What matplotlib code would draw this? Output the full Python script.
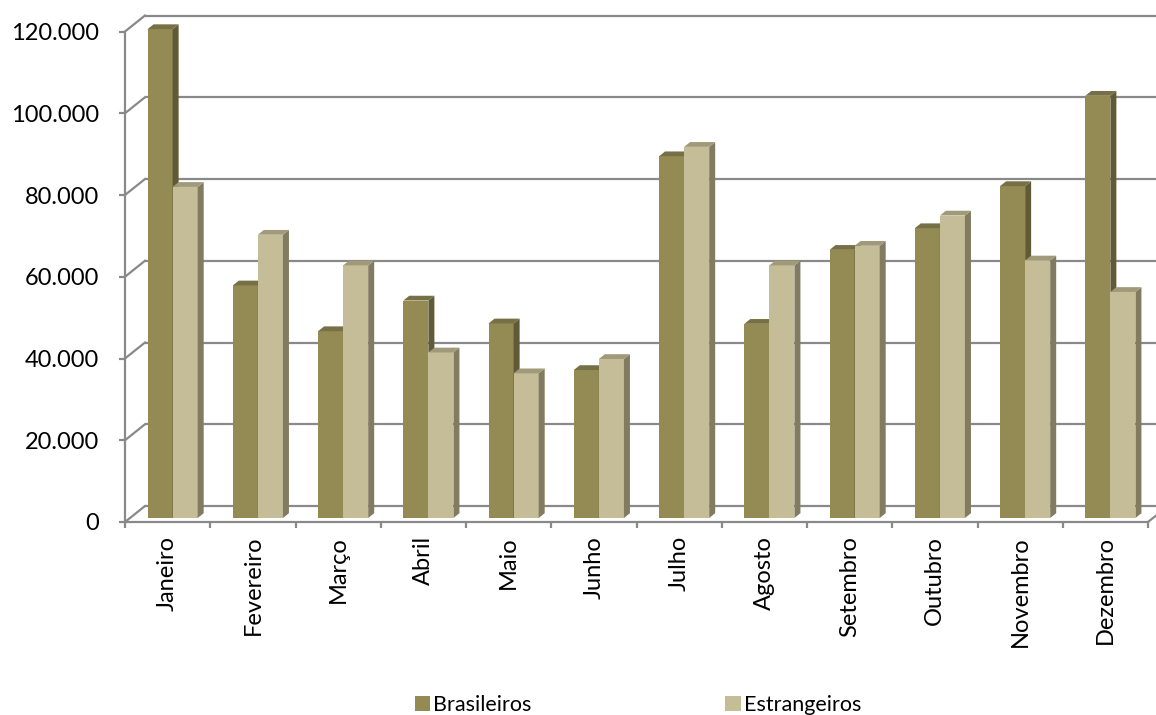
import numpy as np
import matplotlib
matplotlib.use("Agg")
from matplotlib import pyplot as plt
from matplotlib.patches import Polygon, Patch
from matplotlib.ticker import FuncFormatter, FixedLocator

plt.rcParams['font.family'] = ['Lato', 'DejaVu Sans']

# DATA
meses = ["Janeiro", "Fevereiro", "Março", "Abril", "Maio", "Junho",
         "Julho", "Agosto", "Setembro", "Outubro", "Novembro", "Dezembro"]
brasileiros = [119600, 56900, 45700, 53200, 47600, 36200,
               88500, 47500, 65600, 70900, 81200, 103300]
estrangeiros = [81000, 69300, 61800, 40500, 35400, 38900,
                90800, 61800, 66600, 74000, 63000, 55300]
y_ticks = [0, 20000, 40000, 60000, 80000, 100000, 120000]

# colours (front, side, top)
cor_bra = ("#948a54", "#615a36", "#777046")
cor_est = ("#c4bd97", "#807b61", "#a09a7a")
grid_col = "#898989"

# 3d look: depth of the box and of the bars, in data units
n = len(meses)
ymax = 120000
dx, dy = 0.2346, 3914
f0, fd = 0.25, 0.30          # bar front depth / bar thickness (fraction of box depth)
w = 0.294                     # bar width

fig = plt.figure(figsize=(11.56, 7.15), dpi=100)
ax = fig.add_axes([125/1156, 1-522/715, (1148-125)/1156, (522-31.5)/715])
ax.set_xlim(0, n)
ax.set_ylim(0, ymax)
ax.patch.set_visible(False)
for sp in ["top", "right"]:
    ax.spines[sp].set_visible(False)
for sp in ["left", "bottom"]:
    ax.spines[sp].set_color(grid_col)
    ax.spines[sp].set_linewidth(1.6)

# walls: back gridlines + left wall diagonals
for v in y_ticks:
    ax.plot([dx, n + dx + 0.5], [v + dy, v + dy], color=grid_col, lw=1.6,
            clip_on=False, zorder=1, solid_capstyle="butt")
    ax.plot([0, dx], [v, v + dy], color=grid_col, lw=1.6, clip_on=False, zorder=1)
# floor right edge
ax.plot([n, n + dx], [0, dy], color=grid_col, lw=1.6, clip_on=False, zorder=1)


def bar3d(x0, val, cores, z):
    base = f0 * dy
    barras = ax.bar(x0, val, width=w, bottom=base, align="edge", color=cores[0],
                    linewidth=0, zorder=z)
    for b in barras:
        b.set_clip_on(False)
    ddx, ddy = fd * dx, fd * dy
    lado = [(x0 + w, base), (x0 + w + ddx, base + ddy),
            (x0 + w + ddx, base + val + ddy), (x0 + w, base + val)]
    topo = [(x0, base + val), (x0 + ddx, base + val + ddy),
            (x0 + w + ddx, base + val + ddy), (x0 + w, base + val)]
    ax.add_patch(Polygon(lado, closed=True, facecolor=cores[1], lw=0, zorder=z, clip_on=False))
    ax.add_patch(Polygon(topo, closed=True, facecolor=cores[2], lw=0, zorder=z, clip_on=False))


z = 3
for i in range(n):
    bar3d(i + 0.5 - w + f0 * dx, brasileiros[i], cor_bra, z)
    bar3d(i + 0.5 + f0 * dx, estrangeiros[i], cor_est, z + 1)
    z += 2

# ticks
ax.yaxis.set_major_locator(FixedLocator(y_ticks))
ax.yaxis.set_major_formatter(FuncFormatter(lambda v, p: f"{int(v):,}".replace(",", ".")))
ax.tick_params(axis="y", length=4.5, width=1.6, color=grid_col, labelsize=17, pad=14)

ax.set_xticks(np.arange(n) + 0.5)
ax.set_xticklabels(meses, rotation=90, fontsize=17)
ax.set_xticks(np.arange(n + 1), minor=True)
ax.tick_params(axis="x", which="major", length=0, pad=10)
ax.tick_params(axis="x", which="minor", length=4.5, width=1.6, color=grid_col)

# legend
handles = [Patch(facecolor=cor_bra[0], label="Brasileiros"),
           Patch(facecolor=cor_est[0], label="Estrangeiros")]
fig.legend(handles=handles, loc="center", bbox_to_anchor=(0.552, 0.014), ncol=2,
           frameon=False, fontsize=15.5, handlelength=0.7, handleheight=0.7,
           handletextpad=0.15, columnspacing=9.0)

fig.savefig("out.png", dpi=100)
